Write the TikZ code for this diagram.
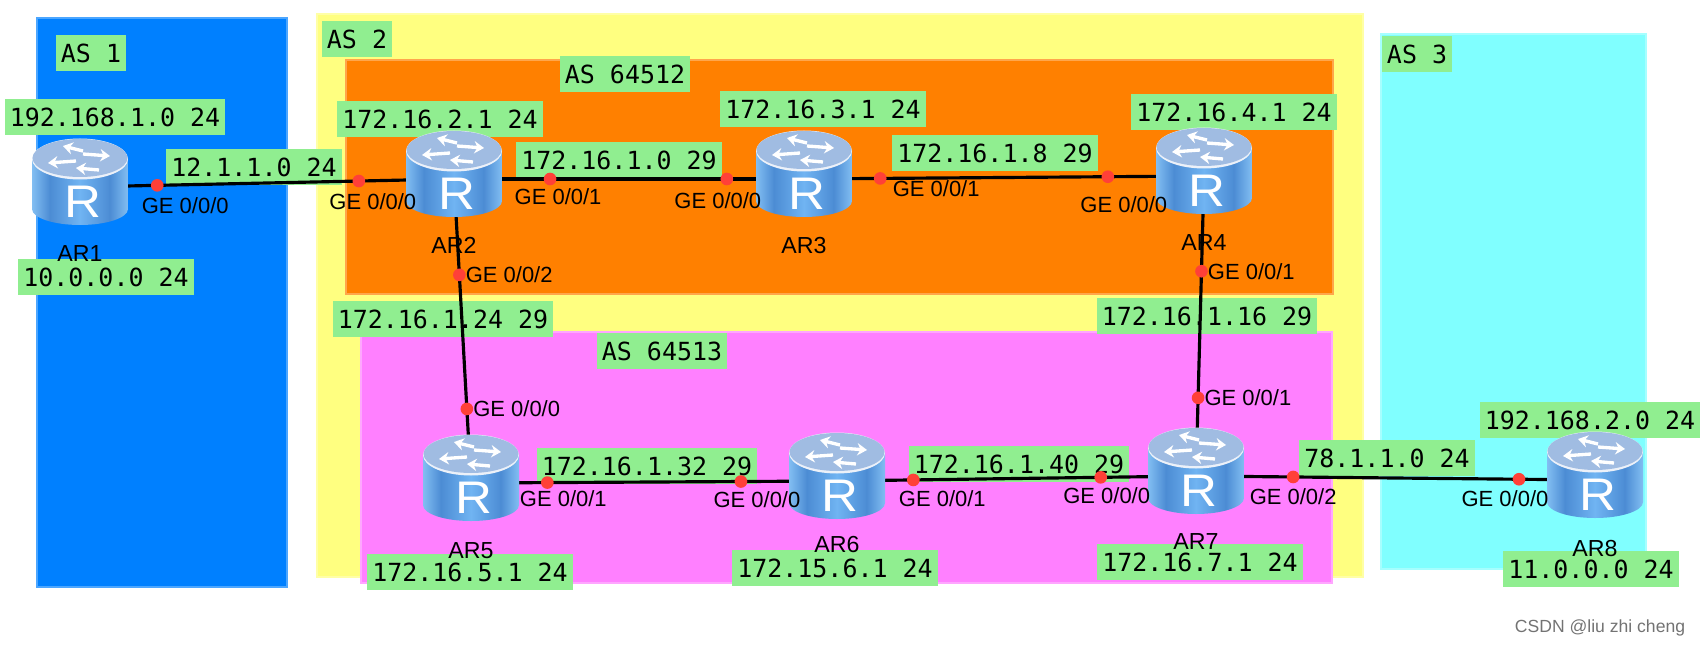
\documentclass[tikz,border=0pt]{standalone}
\usepackage{fontspec}
\setmainfont{Liberation Sans}
\newfontfamily\labelfont{DejaVu Sans Mono}
\usetikzlibrary{arrows.meta,positioning,calc}
\definecolor{asone}{RGB}{0,128,255}
\definecolor{astwo}{RGB}{255,255,128}
\definecolor{asthree}{RGB}{128,255,255}
\definecolor{asorange}{RGB}{255,128,0}
\definecolor{aspink}{RGB}{255,128,255}
\definecolor{tag}{RGB}{144,238,144}
\definecolor{portred}{RGB}{255,64,56}
\definecolor{routertop}{RGB}{160,188,226}
\definecolor{bodyedge}{RGB}{130,190,242}
\definecolor{bodydark}{RGB}{76,140,212}
\definecolor{bodylight}{RGB}{112,180,242}
\tikzset{
  routericon/.pic={
    % body: four shaded strips, light at the rim and in the middle
    \begin{scope}
      \clip (-48,-28) -- (-48,22)
        arc[start angle=180,end angle=0,x radius=48,y radius=16]
        -- (48,-28) -- cycle;
      \shade[left color=bodyedge, right color=bodydark] (-48,-30) rectangle (-30,40);
      \shade[left color=bodydark, right color=bodylight] (-30.2,-30) rectangle (0,40);
      \shade[left color=bodylight, right color=bodydark] (-0.2,-30) rectangle (30,40);
      \shade[left color=bodydark, right color=bodyedge] (29.8,-30) rectangle (48,40);
    \end{scope}
    \fill[white!80!routertop] (0,-28) ellipse [x radius=48,y radius=20.5];
    \fill[routertop] (0,-29) ellipse [x radius=47.5,y radius=19];
    \draw[tiparrow] (3,-33) -- (30,-31);
    \draw[tiparrow] (-4,-26) -- (-32,-24);
    \draw[tiparrow] (3,-36) -- (-17,-41);
    \draw[tiparrow] (19,-17) -- (-4,-19);
    \node[font=\fontsize{26}{26}\selectfont, text=white, inner sep=0pt] (-letter) at (3,15) {\scalebox{1.12}[1]{R}};
  }
}
\begin{document}
\begin{tikzpicture}[x=0.02cm, y=-0.02cm,
    asbox/.style={draw=#1!70!white, fill=#1, line width=0.8pt},
    tagbox/.style={fill=tag, font=\labelfont\fontsize{14.2}{15}\selectfont,
                   minimum height=20.2pt, inner xsep=2.8pt, inner ysep=0pt},
    router/.style={inner sep=0pt, minimum size=0pt},
    rname/.style={font=\fontsize{13.2}{14}\selectfont, inner sep=0pt},
    ge/.style={font=\fontsize{12.5}{13}\selectfont, inner sep=0pt},
    link/.style={black, line width=1.8pt},
    port/.style={circle, fill=portred, inner sep=0pt, minimum size=7.2pt},
    tiparrow/.style={-{Stealth[length=5.5pt,width=7pt]}, white, line width=1.9pt}
  ]
  \useasboundingbox (0,0) rectangle (1702,648);
  % autonomous system areas
  \draw[asbox=asone] (37,18) rectangle (287,587);
  \draw[asbox=astwo] (317,14) rectangle (1363,577);
  \draw[asbox=asorange] (346,60) rectangle (1333,294);
  \draw[asbox=aspink] (361,332) rectangle (1332,583);
  \draw[asbox=asthree] (1381,34) rectangle (1646,569);
  % routers
  \node[router] (ar1) at (80,187) {};
  \node[router] (ar2) at (454,179) {};
  \node[router] (ar3) at (804,179) {};
  \node[router] (ar4) at (1204,176) {};
  \node[router] (ar5) at (471,483) {};
  \node[router] (ar6) at (837,481) {};
  \node[router] (ar7) at (1196,476) {};
  \node[router] (ar8) at (1595,480) {};
  % tags
  \node[tagbox] (as1) at (91,53) {AS 1};
  \node[tagbox] (as2) at (357,39) {AS 2};
  \node[tagbox] (as3) at (1417,54) {AS 3};
  \node[tagbox] (as64512) at (625,74) {AS 64512};
  \node[tagbox] (as64513) at (662,351) {AS 64513};
  \node[tagbox] (t1) at (115,117) {192.168.1.0 24};
  \node[tagbox] (t2) at (440,119) {172.16.2.1 24};
  \node[tagbox] (t3) at (254,167) {12.1.1.0 24};
  \node[tagbox] (t4) at (106,277) {10.0.0.0 24};
  \node[tagbox] (t5) at (443,319) {172.16.1.24 29};
  \node[tagbox] (t6) at (619,160) {172.16.1.0 29};
  \node[tagbox] (t7) at (823,109) {172.16.3.1 24};
  \node[tagbox] (t8) at (995,153) {172.16.1.8 29};
  \node[tagbox] (t9) at (1234,112) {172.16.4.1 24};
  \node[tagbox] (t10) at (1207,316) {172.16.1.16 29};
  \node[tagbox] (t11) at (647,466) {172.16.1.32 29};
  \node[tagbox] (t12) at (1019,464) {172.16.1.40 29};
  \node[tagbox] (t13) at (1387,458) {78.1.1.0 24};
  \node[tagbox] (t14) at (1590,420) {192.168.2.0 24};
  \node[tagbox] (t15) at (470,572) {172.16.5.1 24};
  \node[tagbox] (t16) at (835,568) {172.15.6.1 24};
  \node[tagbox] (t17) at (1200,562) {172.16.7.1 24};
  \node[tagbox] (t18) at (1591,569) {11.0.0.0 24};
  % links
  \draw[link] (ar1) -- node[port, pos=.206] (p1) {} node[port, pos=.746] (p2) {} (ar2);
  \draw[link] (ar2) -- node[port, pos=.274] (p3) {} node[port, pos=.78] (p4) {} (ar3);
  \draw[link] (ar3) -- node[port, pos=.19] (p5) {} node[port, pos=.76] (p6) {} (ar4);
  \draw[link] (ar2) -- node[port, pos=.315] (p7) {} node[port, pos=.757] (p8) {} (ar5);
  \draw[link] (ar4) -- node[port, pos=.317] (p9) {} node[port, pos=.74] (p10) {} (ar7);
  \draw[link] (ar5) -- node[port, pos=.208] (p11) {} node[port, pos=.738] (p12) {} (ar6);
  \draw[link] (ar6) -- node[port, pos=.212] (p13) {} node[port, pos=.735] (p14) {} (ar7);
  \draw[link] (ar7) -- node[port, pos=.243] (p15) {} node[port, pos=.81] (p16) {} (ar8);
  \foreach \r in {ar1,ar2,ar3,ar4,ar5,ar6,ar7,ar8}
    \pic (\r icon) at (\r) {routericon};
  % router names
  \node[rname, below=32.8pt of ar1] (n1) {AR1};
  \node[rname, below=32.8pt of ar2] (n2) {AR2};
  \node[rname, below=32.8pt of ar3] (n3) {AR3};
  \node[rname, below=32.8pt of ar4] (n4) {AR4};
  \node[rname, below=33.4pt of ar5] (n5) {AR5};
  \node[rname, below=31.2pt of ar6] (n6) {AR6};
  \node[rname, below=32.2pt of ar7] (n7) {AR7};
  \node[rname, below=33.7pt of ar8] (n8) {AR8};
  % interface names
  \node[ge] (g1) at ($(p1)+(28,20)$) {GE 0/0/0};
  \node[ge] (g2) at ($(p2)+(14,21)$) {GE 0/0/0};
  \node[ge] (g3) at ($(p3)+(8,18)$) {GE 0/0/1};
  \node[ge] (g4) at ($(p4)+(-9,22)$) {GE 0/0/0};
  \node[ge] (g5) at ($(p5)+(56,10)$) {GE 0/0/1};
  \node[ge] (g6) at ($(p6)+(16,28)$) {GE 0/0/0};
  \node[ge, right=-1pt of p7] (g7) {GE 0/0/2};
  \node[ge, right=-1pt of p9] (g8) {GE 0/0/1};
  \node[ge, right=-1pt of p8] (g9) {GE 0/0/0};
  \node[ge, right=-1pt of p10] (g10) {GE 0/0/1};
  \node[ge] (g11) at ($(p11)+(16,16)$) {GE 0/0/1};
  \node[ge] (g12) at ($(p12)+(16,18)$) {GE 0/0/0};
  \node[ge] (g13) at ($(p13)+(29,19)$) {GE 0/0/1};
  \node[ge] (g14) at ($(p14)+(6,18)$) {GE 0/0/0};
  \node[ge] (g15) at ($(p15)+(0,20)$) {GE 0/0/2};
  \node[ge] (g16) at ($(p16)+(-14,19)$) {GE 0/0/0};
  \node[font=\fontsize{10}{11}\selectfont, text=black!55, inner sep=0pt] (mark) at (1600,628) {CSDN @liu zhi cheng};
\end{tikzpicture}
\end{document}
